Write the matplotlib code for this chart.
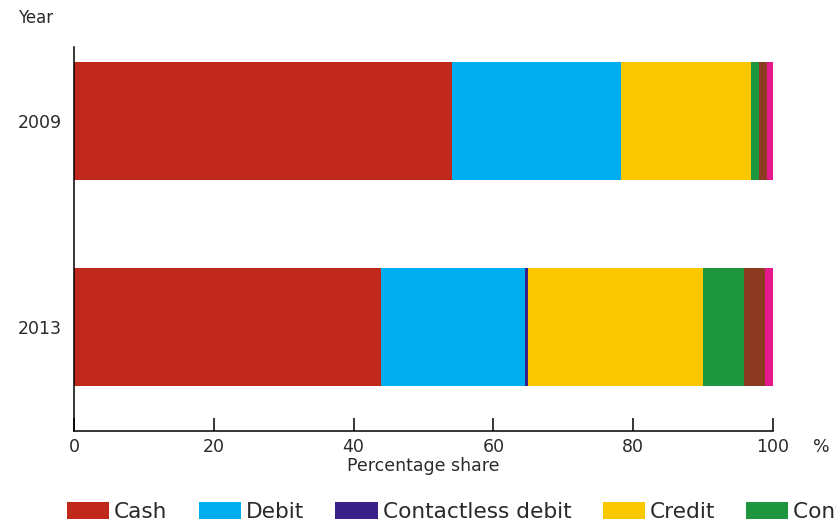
import numpy as np
import matplotlib
matplotlib.use("Agg")
import matplotlib.pyplot as plt

years = ["2009", "2013"]
categories = ["Cash", "Debit", "Contactless debit", "Credit",
              "Contactless credit", "Other cards", "Other"]
colors = ["#C0281C", "#00AEEF", "#3A2089", "#FBC800",
          "#1E9640", "#8C3A22", "#E5198C"]
# percentage share by method, one list per category (2009, 2013)
cash = [54.1, 43.9]
debit = [24.2, 20.6]
contactless_debit = [0.0, 0.4]
credit = [18.6, 25.1]
contactless_credit = [1.1, 5.9]
other_cards = [1.2, 3.0]
other = [0.8, 1.1]
shares = [cash, debit, contactless_debit, credit,
          contactless_credit, other_cards, other]

plt.rcParams['font.family'] = ['DejaVu Sans']
txt = "#2a2a2a"

fig = plt.figure(figsize=(8.37, 5.28), dpi=100)
ax = fig.add_axes([0.0884, 0.1837, 0.8351, 0.7273])

ypos = np.arange(len(years))
left = np.zeros(len(years))
for name, vals, col in zip(categories, shares, colors):
    ax.barh(ypos, vals, left=left, height=0.573, color=col, label=name,
            linewidth=0)
    left += np.array(vals)

ax.set_xlim(0, 100)
ax.set_ylim(1.505, -0.36)
ax.set_yticks(ypos)
ax.set_yticklabels(years)
ax.set_xticks([0, 20, 40, 60, 80, 100])

for s in ["top", "right"]:
    ax.spines[s].set_visible(False)
for s in ["left", "bottom"]:
    ax.spines[s].set_linewidth(1.1)

ax.tick_params(axis="x", direction="in", length=9.5, width=1.1,
               labelsize=12.5, pad=5, labelcolor=txt)
ax.tick_params(axis="y", length=0, labelsize=12.5, pad=9, labelcolor=txt)
ax.set_xlabel("Percentage share", fontsize=12.5, labelpad=1, color=txt)

fig.text(813 / 837, 1 - 447 / 528, "%", fontsize=12.5, ha="left",
         va="center", color=txt)
fig.text(18 / 837, 1 - 18 / 528, "Year", fontsize=12, ha="left",
         va="center", color=txt)

# legend runs past the right edge, as in the original
fig.legend(loc="center left", bbox_to_anchor=(67 / 837, 1 - 512 / 528),
           ncol=7, frameon=False, fontsize=15.6, borderpad=0, borderaxespad=0,
           handlelength=1.94, handleheight=0.78, handletextpad=0.23,
           columnspacing=1.45, labelcolor=txt)

fig.savefig("out.png", dpi=100)
